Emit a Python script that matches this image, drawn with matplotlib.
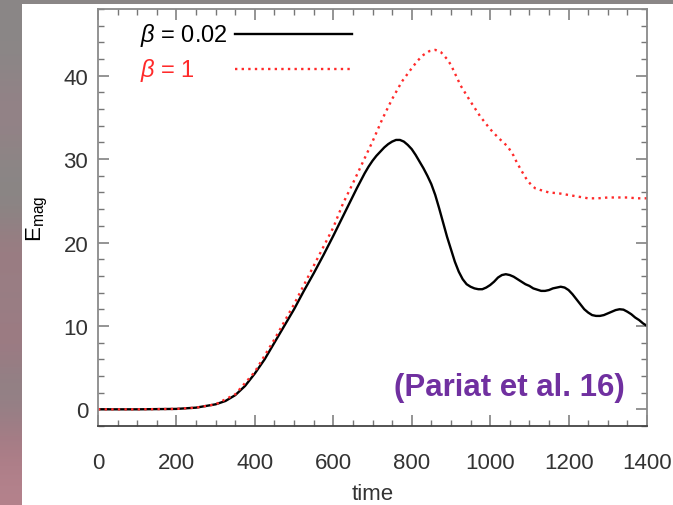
import numpy as np
import matplotlib
matplotlib.use("Agg")
import matplotlib.pyplot as plt
from matplotlib.lines import Line2D
from matplotlib.patches import Rectangle

plt.rcParams['font.family'] = ['Liberation Sans', 'DejaVu Sans']
plt.rcParams['mathtext.fontset'] = 'custom'
plt.rcParams['mathtext.rm'] = 'Liberation Sans'
plt.rcParams['mathtext.it'] = 'Liberation Sans:italic'
plt.rcParams['mathtext.bf'] = 'Liberation Sans:bold'

# Magnetic energy evolution for two plasma-beta runs
time_low_beta = [0, 100, 200, 250, 300, 325, 350, 375, 400, 425, 450, 475, 500,
                 525, 550, 575, 600, 620, 640, 660, 670, 680, 690, 700, 710, 720,
                 730, 740, 750, 760, 770, 780, 790, 800, 810, 820, 830, 840, 850,
                 860, 870, 880, 890, 900, 910, 920, 930, 940, 950, 960, 970, 980,
                 990, 1000, 1010, 1020, 1030, 1040, 1050, 1060, 1070, 1080, 1090,
                 1100, 1110, 1120, 1130, 1140, 1150, 1160, 1170, 1180, 1190, 1200,
                 1210, 1220, 1230, 1240, 1250, 1260, 1270, 1280, 1290, 1300, 1310,
                 1320, 1330, 1340, 1350, 1360, 1370, 1380, 1390, 1400]
emag_low_beta = [0.0, 0.0, 0.05, 0.2, 0.6, 1.0, 1.7, 2.8, 4.3, 6.0, 8.0, 10.0, 12.0,
                 14.2, 16.3, 18.5, 20.8, 22.7, 24.6, 26.5, 27.4, 28.3, 29.1, 29.8, 30.4, 30.9,
                 31.4, 31.8, 32.1, 32.3, 32.3, 32.1, 31.7, 31.2, 30.5, 29.7, 28.9, 28.0, 27.0,
                 25.7, 24.1, 22.4, 20.7, 19.2, 17.7, 16.5, 15.6, 15.0, 14.7, 14.5, 14.4, 14.4,
                 14.6, 14.9, 15.3, 15.8, 16.1, 16.2, 16.1, 15.9, 15.6, 15.3, 15.0,
                 14.8, 14.5, 14.35, 14.2, 14.2, 14.3, 14.5, 14.6, 14.7, 14.6, 14.3,
                 13.8, 13.2, 12.6, 12.0, 11.6, 11.3, 11.2, 11.2, 11.3, 11.5, 11.7,
                 11.9, 12.0, 11.95, 11.7, 11.4, 11.0, 10.7, 10.3, 10.0]

time_high_beta = [0, 100, 200, 250, 300, 350, 400, 450, 500, 550, 600, 625, 650, 675,
                  700, 725, 750, 775, 800, 815, 830, 845, 860, 875, 890, 900, 925, 950,
                  975, 1000, 1020, 1045, 1060, 1068, 1080, 1094, 1105, 1115, 1128, 1150,
                  1175, 1200, 1225, 1250, 1275, 1300, 1325, 1350, 1375, 1400]
emag_high_beta = [0.0, 0.0, 0.05, 0.2, 0.6, 1.8, 4.5, 8.4, 12.6, 17.2, 21.8, 24.7, 27.1, 29.6,
                  32.1, 34.8, 37.2, 39.3, 40.9, 41.8, 42.5, 42.95, 43.1, 42.8, 42.0, 41.3,
                  38.8, 36.9, 35.1, 33.6, 32.6, 31.5, 30.4, 29.6, 28.6, 27.5, 26.9, 26.5,
                  26.3, 26.0, 25.9, 25.7, 25.5, 25.3, 25.3, 25.4, 25.4, 25.4, 25.3, 25.3]

labels = ["0.02", "1"]
x_ticks = [0, 200, 400, 600, 800, 1000, 1200, 1400]
y_ticks = [0, 10, 20, 30, 40]

fig = plt.figure(figsize=(6.73, 5.06), dpi=100)
fig.patch.set_facecolor('#8a8686')

# slide backdrop strip on the left
strip = fig.add_axes([0, 0, 22 / 673, 1])
strip_cols = np.array([[138, 135, 134], [140, 134, 135], [150, 128, 134], [140, 134, 134],
                       [136, 134, 132], [158, 122, 130], [150, 128, 132], [160, 120, 130],
                       [140, 132, 134], [165, 122, 132], [180, 130, 140]]) / 255.0
strip.imshow(strip_cols[:, None, :], aspect='auto', interpolation='bicubic',
             extent=[0, 1, 0, 1], origin='upper')
strip.axis('off')

# white slide panel
fig.patches.append(Rectangle((22 / 673, 0), 1, 1 - 5 / 506, transform=fig.transFigure,
                             facecolor='white', edgecolor='none', zorder=-5))

ax = fig.add_axes([98 / 673, 79 / 506, 549 / 673, 417 / 506])
ax.set_zorder(5)
ax.set_facecolor('white')
ax.set_xlim(0, 1400)
ax.set_ylim(-2, 48)

ax.plot(time_low_beta, emag_low_beta, color='black', lw=1.7, solid_joinstyle='round')
ax.plot(time_high_beta, emag_high_beta, color='#ff2a2a', lw=1.7,
        linestyle=(0, (1, 1.8)), dash_capstyle='butt')

ax.set_xticks(x_ticks)
ax.set_yticks(y_ticks)
ax.set_xticks(np.arange(0, 1401, 50), minor=True)
ax.set_yticks(np.arange(-2, 49, 2), minor=True)
tick_col = '#333333'
ax.tick_params(which='both', direction='in', top=True, right=True, color='#777777')
ax.tick_params(which='major', length=8, width=1.1, labelsize=16, labelcolor=tick_col)
ax.tick_params(which='minor', length=4.5, width=1.0)
ax.tick_params(axis='x', which='major', pad=19)
ax.tick_params(axis='y', which='major', pad=7)
for side in ['left', 'top', 'right']:
    ax.spines[side].set_color('#8a8a8a')
    ax.spines[side].set_linewidth(1.3)
ax.spines['bottom'].set_color('#444444')
ax.spines['bottom'].set_linewidth(1.3)

ax.set_xlabel('time', fontsize=16, color=tick_col, labelpad=7)
ax.set_ylabel(r'E$_{\mathregular{mag}}$', fontsize=16, color='black', labelpad=10)

# legend rows drawn in axes coordinates
legend_rows = [(labels[0], 'black', '-', 0.94), (labels[1], '#ff2a2a', (0, (1, 1.8)), 0.855)]
for lab, col, ls, yy in legend_rows:
    ax.text(0.077, yy, r'$\beta$ = ' + lab, transform=ax.transAxes, color=col,
            fontsize=17, ha='left', va='center')
    ax.add_line(Line2D([0.25, 0.463], [yy, yy], transform=ax.transAxes, color=col,
                       lw=1.7, linestyle=ls, dash_capstyle='butt'))

ax.text(0.96, 0.093, '(Pariat et al. 16)', transform=ax.transAxes, color='#7030a0',
        fontsize=22.5, fontweight='bold', ha='right', va='center')

fig.savefig('out.png', dpi=100, facecolor=fig.get_facecolor())
